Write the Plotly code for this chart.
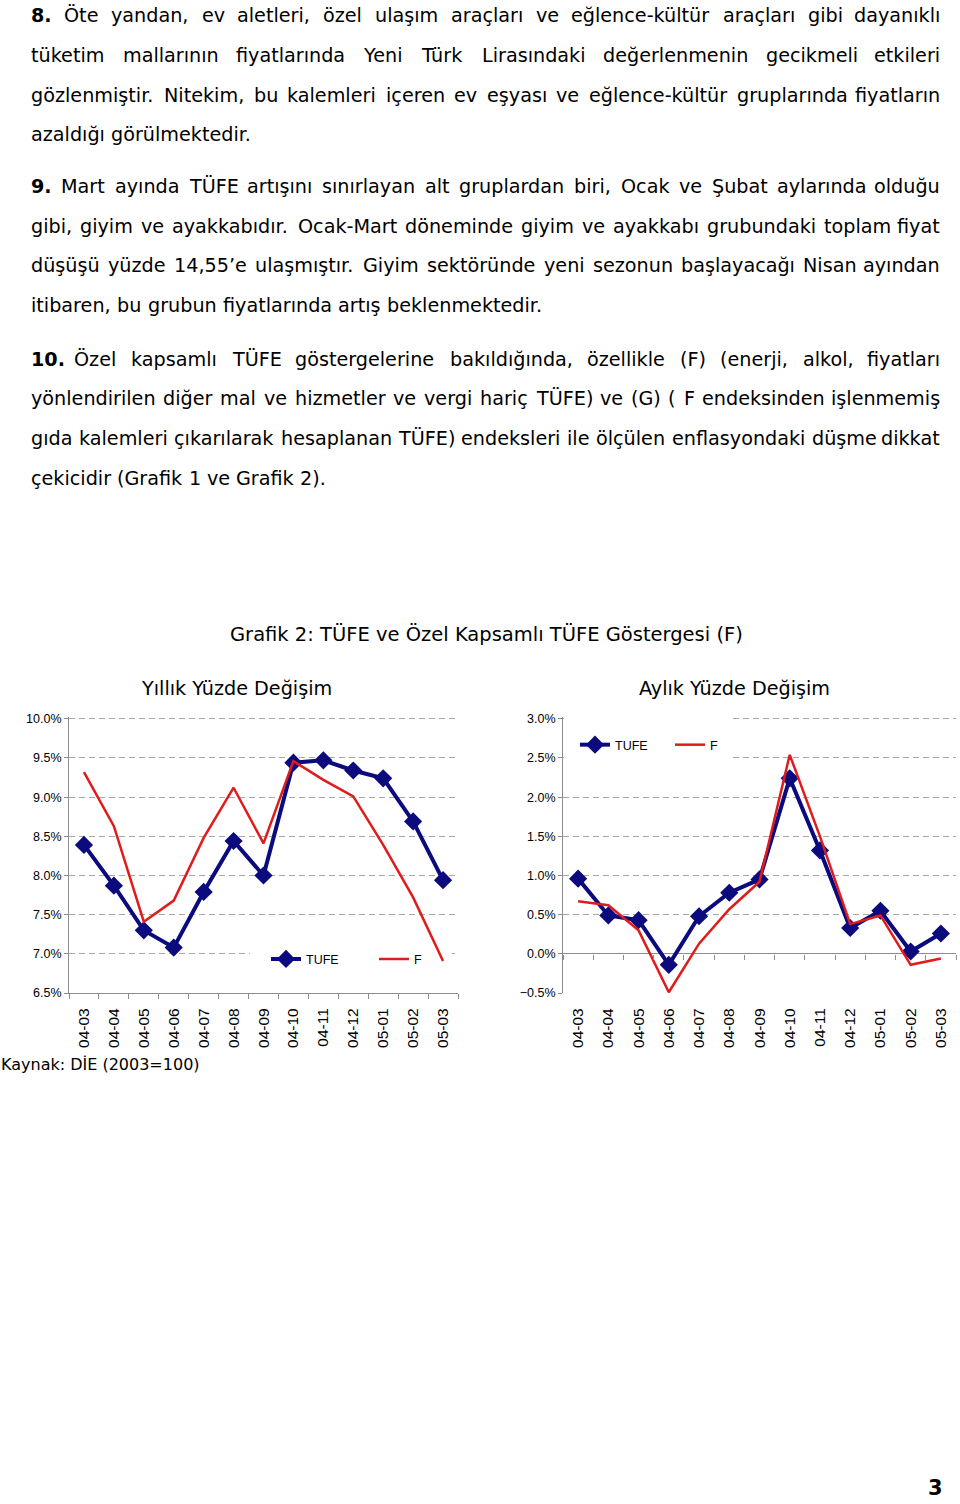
import plotly.graph_objects as go

# ---------------- data ----------------
months = ['04-03', '04-04', '04-05', '04-06', '04-07', '04-08', '04-09',
          '04-10', '04-11', '04-12', '05-01', '05-02', '05-03']
tufe_yillik = [8.39, 7.87, 7.30, 7.08, 7.79, 8.44, 8.00, 9.44, 9.47, 9.34, 9.24, 8.69, 7.94]
f_yillik = [9.32, 8.63, 7.41, 7.68, 8.48, 9.12, 8.41, 9.46, 9.22, 9.01, 8.39, 7.72, 6.91]
tufe_aylik = [0.96, 0.49, 0.43, -0.14, 0.48, 0.78, 0.95, 2.24, 1.32, 0.33, 0.55, 0.03, 0.26]
f_aylik = [0.67, 0.62, 0.30, -0.49, 0.13, 0.57, 0.92, 2.54, 1.50, 0.38, 0.49, -0.14, -0.06]
series_names = ['TUFE', 'F']
yillik_range = [6.5, 10.0]
aylik_range = [-0.5, 3.0]

main_title = 'Grafik 2: TÜFE ve Özel Kapsamlı TÜFE Göstergesi (F)'
left_title = 'Yıllık Yüzde Değişim'
right_title = 'Aylık Yüzde Değişim'
source_text = 'Kaynak: DİE (2003=100)'
page_no = '3'

para8 = ['8. Öte yandan, ev aletleri, özel ulaşım araçları ve eğlence-kültür araçları gibi dayanıklı',
         'tüketim mallarının fiyatlarında Yeni Türk Lirasındaki değerlenmenin gecikmeli etkileri',
         'gözlenmiştir. Nitekim, bu kalemleri içeren ev eşyası ve eğlence-kültür gruplarında fiyatların',
         'azaldığı görülmektedir.']
para9 = ['9. Mart ayında TÜFE artışını sınırlayan alt gruplardan biri, Ocak ve Şubat aylarında olduğu',
         'gibi, giyim ve ayakkabıdır. Ocak-Mart döneminde giyim ve ayakkabı grubundaki toplam fiyat',
         'düşüşü yüzde 14,55’e ulaşmıştır. Giyim sektöründe yeni sezonun başlayacağı Nisan ayından',
         'itibaren, bu grubun fiyatlarında artış beklenmektedir.']
para10 = ['10. Özel kapsamlı TÜFE göstergelerine bakıldığında, özellikle (F) (enerji, alkol, fiyatları',
          'yönlendirilen diğer mal ve hizmetler ve vergi hariç TÜFE) ve (G) ( F endeksinden işlenmemiş',
          'gıda kalemleri çıkarılarak hesaplanan TÜFE) endeksleri ile ölçülen enflasyondaki düşme dikkat',
          'çekicidir (Grafik 1 ve Grafik 2).']

# ---------------- styles ----------------
W_PX, H_PX = 960, 1504
NAVY = '#0b0b7d'
RED = '#e01b1b'
GRID = '#a8a8a8'
AXIS = '#8c8c8c'
BODY_FONT = 'DejaVu Sans, Verdana, sans-serif'
CHART_FONT = 'Liberation Sans, Arial, sans-serif'
BODY_SIZE = 19.2

# DejaVu Sans advance widths (units of 2048/em) used to justify text
_W = {' ': 651, 'a': 1255, 'b': 1300, 'c': 1126, 'd': 1300, 'e': 1260, 'f': 721, 'g': 1300,
      'h': 1298, 'i': 569, 'j': 569, 'k': 1186, 'l': 569, 'm': 1995, 'n': 1298, 'o': 1253,
      'p': 1300, 'q': 1300, 'r': 842, 's': 1067, 't': 803, 'u': 1298, 'v': 1212, 'w': 1675,
      'x': 1212, 'y': 1212, 'z': 1075, 'A': 1401, 'B': 1405, 'C': 1430, 'D': 1577, 'E': 1294,
      'F': 1178, 'G': 1587, 'H': 1540, 'I': 604, 'J': 604, 'K': 1343, 'L': 1141, 'M': 1767,
      'N': 1532, 'O': 1612, 'P': 1235, 'Q': 1612, 'R': 1423, 'S': 1300, 'T': 1251, 'U': 1499,
      'V': 1401, 'W': 2025, 'X': 1403, 'Y': 1251, 'Z': 1403, '.': 651, ',': 651, '-': 739,
      '(': 799, ')': 799, ':': 690, '’': 651, "'": 563, '=': 1716, '%': 1946}
for _d in '0123456789':
    _W[_d] = 1303
_ACC = {'ö': 'o', 'ü': 'u', 'ş': 's', 'ç': 'c', 'ğ': 'g', 'ı': 'i', 'İ': 'I', 'Ö': 'O',
        'Ü': 'U', 'Ş': 'S', 'Ç': 'C', 'Ğ': 'G'}


def text_width(s, size, bold=False):
    tot = 0
    for ch in s:
        ch = _ACC.get(ch, ch)
        if bold:
            tot += 1425 if ch.isdigit() else (780 if ch == '.' else _W.get(ch, 1250) * 1.1)
        else:
            tot += _W.get(ch, 1250)
    return tot / 2048 * size


annotations = []


def add_text(txt, x, y, size=BODY_SIZE, anchor='left', bold=False, family=BODY_FONT):
    annotations.append(dict(
        text=('<b>%s</b>' % txt) if bold else txt, x=x / W_PX, y=1 - y / H_PX,
        xref='paper', yref='paper', xanchor=anchor, yanchor='middle', showarrow=False,
        font=dict(family=family, size=size, color='black'), borderpad=0))


LEFT, RIGHT = 30, 941


def add_paragraph(lines, y0, first_gap=None):
    for li, line in enumerate(lines):
        y = y0 + 40 * li
        words = line.split(' ')
        bolds = [li == 0 and wi == 0 for wi in range(len(words))]
        widths = [text_width(w, BODY_SIZE, b) for w, b in zip(words, bolds)]
        if li == len(lines) - 1:
            gap = text_width(' ', BODY_SIZE)
            x = LEFT
            for w, b, wd in zip(words, bolds, widths):
                add_text(w, x, y, bold=b)
                x += wd + gap
            continue
        if first_gap is not None and li == 0:
            gap = (RIGHT - LEFT - sum(widths) - first_gap) / (len(words) - 2)
            gaps = [first_gap] + [gap] * (len(words) - 2)
        else:
            gap = (RIGHT - LEFT - sum(widths)) / (len(words) - 1)
            gaps = [gap] * (len(words) - 1)
        x = LEFT
        for wi, (w, b, wd) in enumerate(zip(words, bolds, widths)):
            if wi == len(words) - 1:
                add_text(w, RIGHT, y, anchor='right', bold=b)
            else:
                add_text(w, x, y, bold=b)
                x += wd + gaps[wi]


add_paragraph(para8, 11)
add_paragraph(para9, 183)
add_paragraph(para10, 357, first_gap=9)

add_text(main_title, 486, 635, size=19.5, anchor='center')
add_text(left_title, 236, 689, anchor='center')
add_text(right_title, 734, 689, anchor='center')
add_text(source_text, 0, 1068, size=16, anchor='left')
add_text(page_no, 935, 1495, size=21, anchor='center', bold=True)

# ---------------- figure ----------------
fig = go.Figure()
fig.add_trace(go.Scatter(x=months, y=tufe_yillik, name=series_names[0], xaxis='x', yaxis='y',
                         mode='lines+markers', line=dict(color=NAVY, width=4),
                         marker=dict(symbol='diamond', size=14, color=NAVY), legend='legend'))
fig.add_trace(go.Scatter(x=months, y=f_yillik, name=series_names[1], xaxis='x', yaxis='y',
                         mode='lines', line=dict(color=RED, width=2.5), legend='legend'))
fig.add_trace(go.Scatter(x=months, y=tufe_aylik, name=series_names[0], xaxis='x2', yaxis='y2',
                         mode='lines+markers', line=dict(color=NAVY, width=4),
                         marker=dict(symbol='diamond', size=14, color=NAVY), legend='legend2'))
fig.add_trace(go.Scatter(x=months, y=f_aylik, name=series_names[1], xaxis='x2', yaxis='y2',
                         mode='lines', line=dict(color=RED, width=2.5), legend='legend2'))
# empty trace so that the overlay axis carrying the tick marks on the 0% line has a subplot
fig.add_trace(go.Scatter(x=[], y=[], xaxis='x3', yaxis='y2', showlegend=False, hoverinfo='skip'))

# plot area in pixels; extend range a hair above the top gridline so it is drawn
TOP_PX, BOT_PX = 719.5, 996.0
PAD = 0.02
pix_per_unit = (BOT_PX - TOP_PX) / 3.5
top_dom_px = TOP_PX - PAD * pix_per_unit
y_dom = [1 - BOT_PX / H_PX, 1 - top_dom_px / H_PX]
xl_dom = [69 / W_PX, 458 / W_PX]
xr_dom = [563 / W_PX, 956 / W_PX]

common_x = dict(type='category', range=[-0.5, 12.5], tickangle=-90, showgrid=False,
                tickfont=dict(family=CHART_FONT, size=15.5, color='black'), zeroline=False)
common_y = dict(dtick=0.5, tickformat='.1f', ticksuffix='%', showgrid=True, gridcolor=GRID,
                gridwidth=1, griddash='6px,4px', showline=True, linecolor=AXIS, linewidth=1,
                ticks='outside', ticklen=4, tickcolor=AXIS,
                tickfont=dict(family=CHART_FONT, size=12.5, color='black'))

yr = [aylik_range[0], aylik_range[1] + PAD]
zero_pos = y_dom[0] + (0 - yr[0]) / (yr[1] - yr[0]) * (y_dom[1] - y_dom[0])

fig.update_layout(
    width=W_PX, height=H_PX, margin=dict(l=0, r=0, t=0, b=0),
    paper_bgcolor='white', plot_bgcolor='white',
    xaxis=dict(common_x, domain=xl_dom, anchor='y', showline=True, linecolor=AXIS,
               ticks='outside', tickson='boundaries', ticklen=5, tickcolor=AXIS,
               ticklabelstandoff=8),
    yaxis=dict(common_y, domain=y_dom, anchor='x', range=[yillik_range[0], yillik_range[1] + PAD],
               tick0=6.5, zeroline=False),
    xaxis2=dict(common_x, domain=xr_dom, anchor='y2', showline=False,
                ticks='outside', ticklen=5, tickcolor='rgba(0,0,0,0)', ticklabelstandoff=3),
    yaxis2=dict(common_y, domain=y_dom, anchor='x2', range=yr, tick0=0,
                zeroline=True, zerolinecolor=AXIS, zerolinewidth=1),
    xaxis3=dict(overlaying='x2', anchor='free', position=zero_pos, range=[-0.5, 12.5],
                tickmode='array', tickvals=[i - 0.5 for i in range(len(months) + 1)],
                ticktext=[''] * (len(months) + 1), ticks='outside', ticklen=5, tickcolor=AXIS,
                showline=False, showgrid=False, zeroline=False, showticklabels=False),
    legend=dict(orientation='h', x=266 / W_PX, y=1 - 962 / H_PX, xanchor='left', yanchor='middle',
                bgcolor='rgba(0,0,0,0)', font=dict(family=CHART_FONT, size=12.5, color='black'),
                entrywidth=63, itemwidth=30),
    legend2=dict(orientation='h', x=575 / W_PX, y=1 - 746 / H_PX, xanchor='left', yanchor='middle',
                 bgcolor='rgba(0,0,0,0)', font=dict(family=CHART_FONT, size=12.5, color='black'),
                 entrywidth=50, itemwidth=30),
    annotations=annotations,
    shapes=[
        # white patches hiding the gridlines behind the legends (above grid, below traces)
        dict(type='rect', xref='x2', yref='y2', x0=-0.47, x1=5.0, y0=2.2, y1=3.2,
             fillcolor='white', line=dict(width=0), layer='between'),
        dict(type='rect', xref='x', yref='y', x0=5.55, x1=12.3, y0=6.78, y1=7.15,
             fillcolor='white', line=dict(width=0), layer='between'),
    ],
)

fig.write_html('out.html', config={'displayModeBar': False},
               post_script="document.body.style.margin='0px';document.body.style.overflow='hidden';")
